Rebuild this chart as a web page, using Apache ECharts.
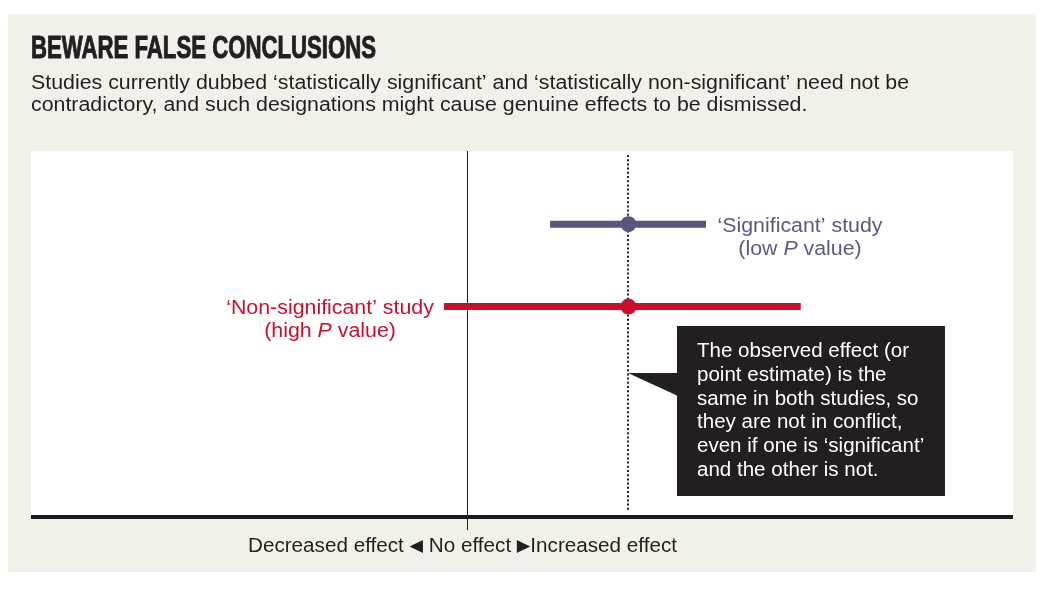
<!DOCTYPE html>
<html>
<head>
<meta charset="utf-8">
<script src="https://cdn.jsdelivr.net/npm/echarts@6/dist/echarts.min.js"></script>
<style>
html,body{margin:0;padding:0;background:#fff;}
#chart{width:1057px;height:599px;}
</style>
</head>
<body>
<div id="chart"></div>
<script>
// ---- data ----
const categories = ['Significant', 'Non-significant'];
const estimates = [1.0, 1.0];
const ciLow = [0.516, -0.139];
const ciHigh = [1.479, 2.064];
const rowY = [8.0, 5.75];
const labelLine1 = ['‘Significant’ study', '‘Non-significant’ study'];
const labelLine2Pre = ['(low ', '(high '];
const labelLine2Post = [' value)', ' value)'];
const refValues = [0, 1];           // no effect, observed effect
const xMin = -2.69, xMax = 3.375, yMin = 0, yMax = 10;

const titleText = 'BEWARE FALSE CONCLUSIONS';
const subtitleLines = [
  'Studies currently dubbed ‘statistically significant’ and ‘statistically non-significant’ need not be',
  'contradictory, and such designations might cause genuine effects to be dismissed.'
];
const calloutLines = [
  'The observed effect (or',
  'point estimate) is the',
  'same in both studies, so',
  'they are not in conflict,',
  'even if one is ‘significant’',
  'and the other is not.'
];
const axisCaption = ['Decreased effect ', '◀', ' No effect ', '▶', 'Increased effect'];

// ---- styles ----
const FAM = '"Liberation Sans", Arial, sans-serif';
const SYMFAM = '"DejaVu Sans", sans-serif';
const colors = ['#57567f', '#c8102e'];
const labelColors = ['#5a5986', '#c8102e'];
const labelCfg = [{ side: 'right', dx: 94 }, { side: 'left', dx: 114 }];

const measureCtx = document.createElement('canvas').getContext('2d');
function textW(text, font) { measureCtx.font = font; return measureCtx.measureText(text).width; }

const titleFont = 'bold 32px ' + FAM;
const titleScale = 345 / textW(titleText, titleFont);
const subFont = '20px ' + FAM;
const subScale = 878 / textW(subtitleLines[0], subFont);
const bodyFont = '19.5px ' + FAM;
const calloutScale = 212 / textW(calloutLines[0], bodyFont);
const labelScale = 165 / textW(labelLine1[0], bodyFont);
const capFont = '20px ' + FAM, capSymFont = '17px ' + SYMFAM;
const capW = axisCaption.reduce((s, t, i) => s + textW(t, i % 2 ? capSymFont : capFont), 0);
const capScale = 429 / capW;

const chart = echarts.init(document.getElementById('chart'));
const ciData = categories.map((c, i) => [ciLow[i], ciHigh[i], estimates[i], rowY[i]]);

const graphics = [
  { type: 'rect', z: -10, silent: true, shape: { x: 8, y: 14, width: 1028, height: 558 }, style: { fill: '#f2f1e9' } },
  { type: 'text', z: 10, x: 31, y: 49.5, scaleX: titleScale,
    style: { text: titleText, fill: '#231f20', stroke: '#231f20', lineWidth: 1, font: titleFont, align: 'left', verticalAlign: 'middle' } },
  { type: 'rect', z: 10, shape: { x: 677, y: 326, width: 268, height: 170 }, style: { fill: '#231f20' } },
  { type: 'polygon', z: 10, shape: { points: [[628, 373], [678, 373], [678, 396]] }, style: { fill: '#231f20' } },
  { type: 'text', z: 10, x: 462.5, y: 546.7, scaleX: capScale, style: {
    text: axisCaption.map((t, i) => (i % 2 ? '{s|' : '{t|') + t + '}').join(''),
    align: 'center', verticalAlign: 'middle',
    rich: { t: { font: capFont, fill: '#231f20', color: '#231f20' },
            s: { font: capSymFont, fill: '#231f20', color: '#231f20' } } } }
];
subtitleLines.forEach((t, i) => graphics.push({ type: 'text', z: 10, x: 31, y: 83 + i * 22.5, scaleX: subScale,
  style: { text: t, font: subFont, fill: '#231f20', align: 'left', verticalAlign: 'middle' } }));
calloutLines.forEach((t, i) => graphics.push({ type: 'text', z: 11, x: 697, y: 351.7 + i * 23.8, scaleX: calloutScale,
  style: { text: t, font: bodyFont, fill: '#ffffff', align: 'left', verticalAlign: 'middle' } }));

const option = {
  animation: false,
  backgroundColor: '#ffffff',
  grid: { left: 31, right: 44, top: 151, bottom: 82, show: true, backgroundColor: '#ffffff', borderWidth: 0 },
  xAxis: {
    type: 'value', min: xMin, max: xMax,
    axisLine: { show: true, onZero: false, lineStyle: { color: '#1a1a1a', width: 4, cap: 'butt' } },
    axisTick: { show: false }, axisLabel: { show: false }, splitLine: { show: false }
  },
  yAxis: {
    type: 'value', min: yMin, max: yMax,
    axisLine: { show: false }, axisTick: { show: false }, axisLabel: { show: false }, splitLine: { show: false }
  },
  graphic: graphics,
  series: [
    {
      type: 'custom', name: 'reference', z: 2, clip: false,
      data: refValues,
      encode: { x: 0 },
      renderItem: function (params, api) {
        const v = api.value(0);
        const top = api.coord([v, yMax]);
        const bot = api.coord([v, yMin]);
        const solid = params.dataIndex === 0;
        const x = Math.round(top[0]) + (solid ? 0.5 : 0);
        return {
          type: 'line',
          shape: { x1: x, y1: top[1] + (solid ? 0 : 4), x2: x, y2: solid ? bot[1] + 13 : bot[1] - 5 },
          style: solid ? { stroke: '#231f20', lineWidth: 1 } : { stroke: '#231f20', lineWidth: 2, lineDash: [2, 2.2] }
        };
      }
    },
    {
      type: 'custom', name: 'studies', z: 3, clip: false,
      data: ciData,
      encode: { x: [0, 1, 2], y: 3 },
      renderItem: function (params, api) {
        const i = params.dataIndex;
        const y = api.value(3);
        const lo = api.coord([api.value(0), y]);
        const hi = api.coord([api.value(1), y]);
        const est = api.coord([api.value(2), y]);
        const cfg = labelCfg[i];
        const cx = cfg.side === 'right' ? hi[0] + cfg.dx : lo[0] - cfg.dx;
        return {
          type: 'group',
          children: [
            { type: 'line', shape: { x1: lo[0], y1: lo[1], x2: hi[0], y2: hi[1] },
              style: { stroke: colors[i], lineWidth: 7 } },
            { type: 'circle', shape: { cx: est[0], cy: est[1], r: 8 }, style: { fill: colors[i] } },
            { type: 'text', x: cx, y: lo[1] + 2, scaleX: labelScale,
              style: { text: labelLine1[i], font: bodyFont, fill: labelColors[i], align: 'center', verticalAlign: 'middle' } },
            { type: 'text', x: cx, y: lo[1] + 25.5, scaleX: labelScale, style: {
                text: '{a|' + labelLine2Pre[i] + '}{b|P}{a|' + labelLine2Post[i] + '}',
                align: 'center', verticalAlign: 'middle',
                rich: { a: { font: bodyFont, fill: labelColors[i], color: labelColors[i] },
                        b: { font: 'italic ' + bodyFont, fill: labelColors[i], color: labelColors[i] } } } }
          ]
        };
      }
    }
  ]
};
chart.setOption(option);
</script>
</body>
</html>
